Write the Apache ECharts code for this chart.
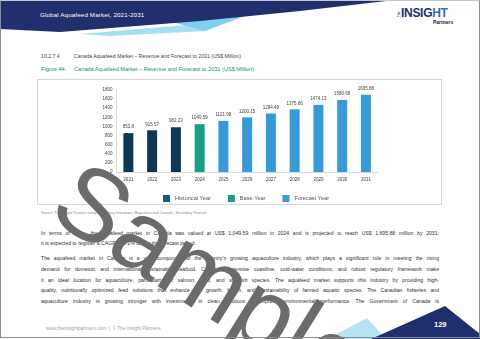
<!DOCTYPE html>
<html>
<head>
<meta charset="utf-8">
<script src="https://cdn.jsdelivr.net/npm/echarts@6/dist/echarts.min.js"></script>
<style>
  html, body { margin:0; padding:0; background:#fff; }
  #page { position:relative; width:480px; height:339px; overflow:hidden; background:#fff; font-family:"Liberation Sans", Arial, sans-serif; }
  #frame { position:absolute; left:0; top:0; width:480px; height:338px; box-sizing:border-box; border:1px solid #8c8c8c; border-top:1px solid #c8c8c8; pointer-events:none; z-index:20; }
  .abs { position:absolute; white-space:nowrap; }
  #banner { position:absolute; left:0; top:0; }
  #bannerTitle { left:40px; top:11px; font-size:6.2px; color:#fff; letter-spacing:0.15px; }
  #logo { left:397px; top:6px; }
  .h1 { font-size:5.2px; color:#444; }
  .fig { font-size:5.6px; color:#1a8b7c; }
  #box { position:absolute; left:37px; top:79px; width:405px; height:126px; box-sizing:border-box; border:1px solid #d6d6d6; }
  #chart { position:absolute; left:0; top:0; width:403px; height:124px; }
  #source { left:41px; top:210.5px; font-size:3.6px; color:#8a8a8a; }
  .line { position:absolute; left:41px; width:398px; font-size:5.15px; color:#2e2e2e; white-space:nowrap; text-align:justify; text-align-last:justify; line-height:6px; }
  .last { text-align-last:left; }
  #footer { left:46px; top:326px; font-size:4.8px; color:#a3a3a3; }
  #pnum { left:434px; top:320px; font-size:7.5px; font-weight:bold; color:#fff; z-index:6; }
  #wm { position:absolute; font-family:"Liberation Sans", Arial, sans-serif; font-size:102px; line-height:102px; color:#6b6b6b; white-space:nowrap; z-index:10; }
</style>
</head>
<body>
<div id="page">
  <svg id="banner" width="480" height="339" viewBox="0 0 480 339">
    <polygon points="80,34 210,23 206,31 110,36" fill="#a9def0"/>
    <polygon points="172,22 258,11 205,31" fill="#7fd0ec"/>
    <polygon points="0,0 395,0 300,11 200,21 60,32 0,29" fill="#222f6e"/>
    <polygon points="327,339 367,318 386,339" fill="#b5e3f2"/>
    <polygon points="371,339 445,306 480,334 480,339" fill="#222f6e"/>
  </svg>
  <div id="bannerTitle" class="abs">Global Aquafeed Market, 2021-2031</div>
  <div id="logo" class="abs">
    <span style="position:absolute;left:0;font-size:3px;color:#222f6e;transform:rotate(-90deg);transform-origin:0 0;top:11px;font-weight:bold;">The</span>
    <span style="position:absolute;left:4px;top:0;font-size:12px;font-weight:bold;color:#222f6e;letter-spacing:-0.3px;">INSIG<span style="color:#2e6db4">HT</span></span>
    <span style="position:absolute;left:36px;top:12.5px;font-size:5px;font-weight:bold;color:#222;">Partners</span>
  </div>
  <div class="abs h1" style="left:41px;top:52.5px;">10.2.7.4</div>
  <div class="abs h1" style="left:74px;top:52.5px;">Canada Aquafeed Market – Revenue and Forecast to 2031 (US$ Million)</div>
  <div class="abs fig" style="left:41px;top:65.8px;">Figure 44.</div>
  <div class="abs fig" style="left:74px;top:65.8px;">Canada Aquafeed Market – Revenue and Forecast to 2031 (US$ Million)</div>
  <div id="box"><div id="chart"></div></div>
  <div id="source" class="abs">Source: The Insight Partners analysis, Primary Interviews, Magazines and Journals, Secondary Sources</div>

  <div class="line" style="top:229.7px;">In terms of value, the aquafeed market in Canada was valued at US$ 1,049.59 million in 2024 and is projected to reach US$ 1,695.88 million by 2031;</div>
  <div class="line last" style="top:240.3px;">it is expected to register a CAGR of 7.1% during the forecast period.</div>
  <div class="line" style="top:255.3px;">The aquafeed market in Canada is a vital component of the country's growing aquaculture industry, which plays a significant role in meeting the rising</div>
  <div class="line" style="top:266.1px;">demand for domestic and international sustainable seafood. Canada's extensive coastline, cold-water conditions, and robust regulatory framework make</div>
  <div class="line" style="top:276.8px;">it an ideal location for aquaculture, particularly for salmon, trout, and shellfish species. The aquafeed market supports this industry by providing high-</div>
  <div class="line" style="top:287.4px;">quality, nutritionally optimized feed solutions that enhance the growth, health, and sustainability of farmed aquatic species. The Canadian fisheries and</div>
  <div class="line" style="top:298px;">aquaculture industry is growing stronger with investments in clean solutions to improve environmental performance. The Government of Canada is</div>

  <div id="footer" class="abs">www.theinsightpartners.com &nbsp;| &nbsp;© The Insight Partners</div>
  <div id="pnum" class="abs">129</div>
  <div id="wm" style="left:60px;top:154px;transform-origin:34px 49.6px;transform:rotate(32deg);">Sample</div>
  <div id="frame"></div>
</div>
<script>
var categories = ['2021','2022','2023','2024','2025','2026','2027','2028','2029','2030','2031'];
var historicalValues = [853.8, 915.57, 982.23, null, null, null, null, null, null, null, null];
var baseValues = [null, null, null, 1049.59, null, null, null, null, null, null, null];
var forecastValues = [null, null, null, null, 1121.98, 1200.15, 1284.49, 1375.66, 1474.13, 1580.68, 1695.88];
var yTicks = [0, 200, 400, 600, 800, 1000, 1200, 1400, 1600, 1800];

var chart = echarts.init(document.getElementById('chart'), null, {renderer:'canvas'});
var lbl = {show:true, position:'top', distance:3.5, fontSize:4.5, color:'#404040', fontFamily:'Liberation Sans'};
function mk(name, data, color) {
  return {name:name, type:'bar', stack:'s', data:data, barWidth:'42%', itemStyle:{color:color}, label:lbl};
}
chart.setOption({
  animation:false,
  textStyle:{fontFamily:'Liberation Sans'},
  grid:{left:78.5, top:10, width:261.3, height:82, containLabel:false},
  legend:{
    left:125, top:115, padding:0, itemWidth:7, itemHeight:7, itemGap:17, icon:'rect',
    textStyle:{fontSize:5.6, color:'#555'},
    data:[
      {name:'Historical Year', itemStyle:{color:'#1b5889'}},
      {name:'Base Year', itemStyle:{color:'#179e87'}},
      {name:'Forecast Year', itemStyle:{color:'#379be0'}}
    ]
  },
  xAxis:{
    type:'category', data:categories,
    axisLine:{show:true, lineStyle:{color:'#d9d9d9', width:1}},
    axisTick:{show:false},
    axisLabel:{fontSize:4.5, color:'#404040', margin:5}
  },
  yAxis:{
    type:'value', min:yTicks[0], max:yTicks[yTicks.length-1], interval:200,
    axisLine:{show:true, lineStyle:{color:'#d9d9d9', width:1}},
    axisTick:{show:false},
    splitLine:{show:false},
    axisLabel:{fontSize:4.5, color:'#404040', margin:4, formatter:function(v){ return String(v); }}
  },
  series:[
    mk('Historical Year', historicalValues, '#0e3756'),
    mk('Base Year', baseValues, '#179e87'),
    mk('Forecast Year', forecastValues, '#359ada')
  ]
});
</script>
</body>
</html>
